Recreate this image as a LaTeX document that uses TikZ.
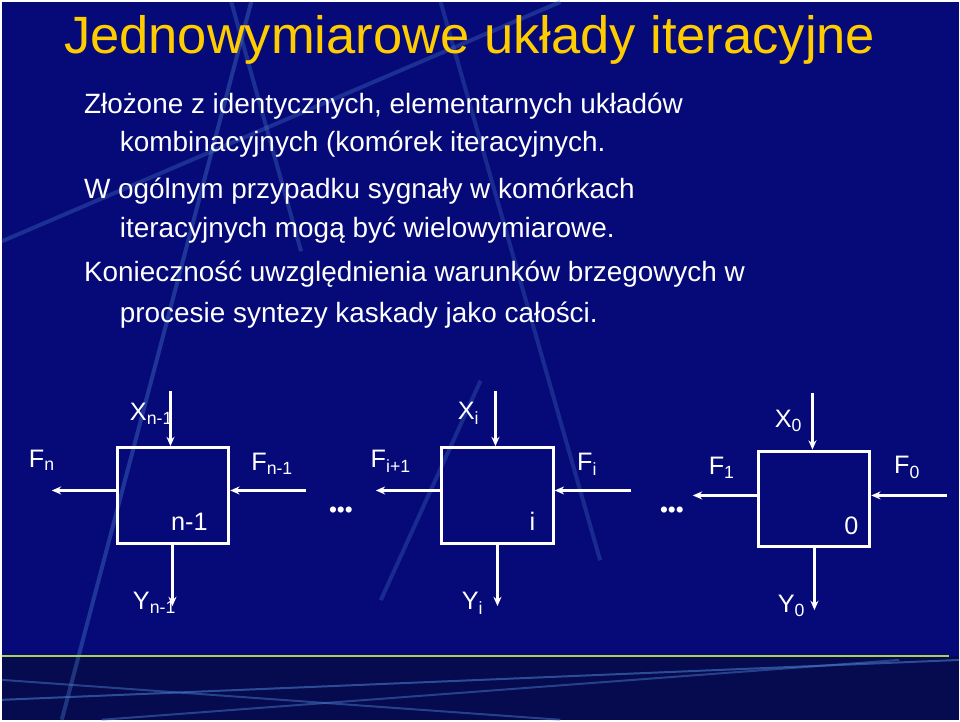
\documentclass[tikz,border=0pt]{standalone}
\usepackage{fontspec}
\setmainfont{Liberation Sans}
\usetikzlibrary{arrows.meta}
\definecolor{slidebg}{RGB}{6,10,120}
\definecolor{bandbg}{RGB}{6,10,78}
\definecolor{streak}{RGB}{70,120,200}
\definecolor{titlecol}{RGB}{255,204,0}
\definecolor{bandline}{RGB}{170,210,80}
\tikzset{
  cell/.style={draw=white,line width=2.2pt,minimum width=84pt,minimum height=72pt,inner sep=0pt},
  sig/.style={white,line width=2.2pt,-{Stealth[length=7pt,width=6pt]}},
  lab/.style={text=white,font=\fontsize{19}{22}\selectfont,inner sep=0pt},
  body/.style={text=white,font=\fontsize{21}{25}\selectfont,anchor=west,inner sep=0pt},
  gap/.style={text=white,font=\fontsize{17}{18}\selectfont,inner sep=0pt}
}
\begin{document}
\begin{tikzpicture}[x=0.75pt,y=-0.75pt]
	% background
	\fill[slidebg] (0,0) rectangle (960,720);
	\fill[bandbg] (0,656) rectangle (960,720);
	\draw[streak,line width=3pt,opacity=.4] (60,720)--(250,0);
	\draw[streak,line width=3pt,opacity=.35] (0,240)--(560,0);
	\draw[streak,line width=3pt,opacity=.35] (230,0)--(300,250);
	\draw[streak,line width=3pt,opacity=.3] (440,0)--(600,560);
	\draw[streak,line width=3pt,opacity=.3] (380,600)--(480,380);
	\draw[streak,line width=1.5pt,opacity=.6] (0,700)--(960,660);
	\draw[streak,line width=1.5pt,opacity=.5] (100,720)--(900,660);
	\draw[streak,line width=1.5pt,opacity=.5] (0,680)--(560,720);
	\draw[bandline,line width=1.2pt] (0,656)--(950,656);
	% title and text
	\node[anchor=west,text=titlecol,font=\fontsize{39.5}{44}\selectfont,inner sep=0pt] (title) at (62,38) {Jednowymiarowe układy iteracyjne};
	\node[body] (t1) at (82,104) {Złożone z identycznych, elementarnych układów};
	\node[body] (t2) at (118,143) {kombinacyjnych (komórek iteracyjnych.};
	\node[body] (t3) at (82,190) {W ogólnym przypadku sygnały w komórkach};
	\node[body] (t4) at (118,229) {iteracyjnych mogą być wielowymiarowe.};
	\node[body] (t5) at (82,273) {Konieczność uwzględnienia warunków brzegowych w};
	\node[body] (t6) at (118,314) {procesie syntezy kaskady jako całości.};
	% cells
	\node[cell] (c1) at (171.5,495) {};
	\node[cell] (c2) at (497,495) {};
	\node[cell] (c3) at (814.5,498.5) {};
	\node[lab] at (188,521) {n-1};
	\node[lab] at (532,521) {i};
	\node[lab] at (852,525) {0};
	% inputs/outputs
	\coordinate (x1) at (169,390);
	\coordinate (x2) at (495,390);
	\coordinate (x3) at (813,392);
	\coordinate (y1) at (171,606);
	\coordinate (y2) at (497,606);
	\coordinate (y3) at (815,610);
	\coordinate (fn) at (50,490);
	\coordinate (fn1) at (305,490);
	\coordinate (fi1) at (375,490);
	\coordinate (fi) at (631,490);
	\coordinate (f1) at (693,495);
	\coordinate (f0) at (948,495);
	\node[lab] at (150,413) {X\textsubscript{n-1}};
	\node[lab] at (468,413) {X\textsubscript{i}};
	\node[lab] at (789,420) {X\textsubscript{0}};
	\node[lab] at (153,603) {Y\textsubscript{n-1}};
	\node[lab] at (472,603) {Y\textsubscript{i}};
	\node[lab] at (792,606) {Y\textsubscript{0}};
	\node[lab] at (40,460) {F\textsubscript{n}};
	\node[lab] at (271,463) {F\textsubscript{n-1}};
	\node[lab] at (390,461) {F\textsubscript{i+1}};
	\node[lab] at (587,464) {F\textsubscript{i}};
	\node[lab] at (722,467) {F\textsubscript{1}};
	\node[lab] at (908,467) {F\textsubscript{0}};
	\draw[sig] (x1)--(x1|-c1.north);
	\draw[sig] (x2)--(x2|-c2.north);
	\draw[sig] (x3)--(x3|-c3.north);
	\draw[sig] (y1|-c1.south)--(y1);
	\draw[sig] (y2|-c2.south)--(y2);
	\draw[sig] (y3|-c3.south)--(y3);
	\draw[sig] (c1.west|-fn)--(fn);
	\draw[sig] (fn1)--(c1.east|-fn1);
	\draw[sig] (c2.west|-fi1)--(fi1);
	\draw[sig] (fi)--(c2.east|-fi);
	\draw[sig] (c3.west|-f1)--(f1);
	\draw[sig] (f0)--(c3.east|-f0);
	% dots
	\node[gap] (d1) at (340,512) {•••};
	\node[gap] (d2) at (672,512) {•••};
\end{tikzpicture}
\end{document}
